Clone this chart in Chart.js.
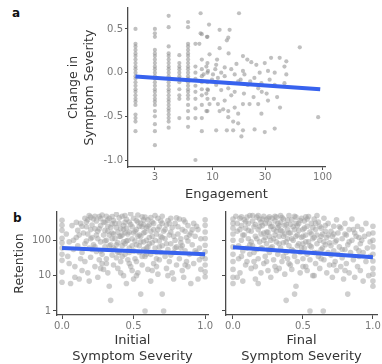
<!DOCTYPE html>
<html>
<head>
<meta charset="utf-8">
<script src="https://cdn.jsdelivr.net/npm/chart.js@4.4.1/dist/chart.umd.min.js"></script>
<style>
body { margin:0; background:#fff; width:382px; height:364px; position:relative; overflow:hidden; }
canvas { position:absolute; }
.lab { position:absolute; font:bold 12px "DejaVu Sans"; line-height:12px; color:#111; }
</style>
</head>
<body>
<div class="lab" style="left:12px;top:7px">a</div>
<div class="lab" style="left:13px;top:212px">b</div>
<canvas id="ca" width="340" height="210" style="left:0;top:0"></canvas>
<canvas id="cb1" width="215" height="165" style="left:0;top:200px"></canvas>
<canvas id="cb2" width="167" height="165" style="left:215px;top:200px"></canvas>
<script>
// panel a : engagement (log) vs change in symptom severity
const engTicks = [3, 10, 30, 100];
const changeTicks = [-1, -0.5, 0, 0.5];
const engCols = [2, 3, 4, 5, 6, 7, 8, 9];
const colY = [
  [0.5,0.33,0.3,0.26,0.22,0.19,0.15,0.11,0.07,0.04,0,-0.04,-0.07,-0.11,-0.15,-0.19,-0.22,-0.26,-0.3,-0.33,-0.37,-0.48,-0.52,-0.56,-0.67],
  [0.5,0.45,0.41,0.26,0.22,0.19,0.15,0.11,0.07,0.04,0,-0.04,-0.07,-0.11,-0.15,-0.19,-0.22,-0.26,-0.3,-0.33,-0.37,-0.44,-0.5,-0.59,-0.67,-0.83],
  [0.65,0.52,0.3,0.22,0.19,0.15,0.11,0.07,0.04,0,-0.04,-0.07,-0.11,-0.15,-0.19,-0.22,-0.26,-0.3,-0.33,-0.37,-0.41,-0.44,-0.48,-0.52,-0.56,-0.63],
  [0.2,0.11,0.07,0.04,0,-0.04,-0.07,-0.11,-0.19,-0.26,-0.3,-0.52],
  [0.58,0.52,0.33,0.3,0.26,0.22,0.19,0.15,0.11,0.07,0.04,0,-0.04,-0.07,-0.11,-0.15,-0.19,-0.22,-0.26,-0.3,-0.37,-0.44,-0.52,-0.62],
  [0.33,0.07,0,-0.07,-0.15,-0.22,-0.3,-0.41,-0.52,-1.0],
  [0.44,0.15,0.04,-0.04,-0.11,-0.19,-0.26,-0.37,-0.52,-0.67],
  [0.41,0.11,0,-0.11,-0.19,-0.3,-0.44]
];
const spreadA = [
  [7.8,0.68],[17.4,0.68],[9.3,0.55],[11.6,0.49],[14.3,0.49],[7.8,0.45],[8.9,0.41],[13.9,0.4],[13.5,0.37],
  [7.6,0.33],[62,0.29],[11.6,0.28],[9.4,0.21],[18.9,0.19],[20.7,0.15],[34,0.17],[40.7,0.17],[46.8,0.13],
  [22.5,0.12],[25,0.09],[29.8,0.11],[45,0.07],[10.8,0.09],[8.8,0.07],[12.9,0.06],[14.8,0.04],[18.9,0.02],
  [26.8,0],[31.9,0.02],[36.7,0],[46.8,-0.02],[10.1,-0.02],[11.2,-0.06],[13.9,-0.12],[17.1,-0.1],[20.9,-0.14],
  [26,-0.18],[36.7,-0.14],[19.3,-0.24],[14.8,-0.26],[12.9,-0.32],[23.6,-0.28],[31.9,-0.32],[18.9,-0.36],
  [15.9,-0.4],[11.6,-0.44],[13.9,-0.51],[17.1,-0.47],[27.8,-0.47],[9.4,-0.36],[8.8,-0.24],[15.4,-0.56],
  [10.8,-0.66],[13.5,-0.66],[15.4,-0.66],[18.9,-0.66],[24.1,-0.65],[29.8,-0.68],[36.7,-0.64],[18.3,-0.73],
  [91,-0.51],[17.1,-0.58],[10.6,0.04],[12,0],[12.9,-0.04],[9.9,-0.08],[10.8,-0.14],[12,-0.2],[13.9,-0.18],
  [15.9,-0.22],[9.1,-0.2],[10.3,-0.3],[11.2,-0.36],[12.5,-0.42],[13.9,-0.44],[8.8,-0.44],[8.3,-0.02],
  [9.1,0.02],[18,-0.08],[15.9,-0.02],[24,-0.06],[27.8,-0.12],[21.7,-0.36],[26,-0.36],[38.6,-0.28],
  [45,-0.12],[31,-0.24],[11,0.15],[14,0.22],[16.5,0.1],[19.5,-0.02],[22,-0.1],[28,-0.22],[33,-0.08],[41,-0.4]
];
const fitA = [[2, -0.045], [95, -0.19]];

// panel b : symptom severity vs retention (log)
const retTicks = [1, 10, 100];
const sevTicks = [0, 0.5, 1];
const initPts = [
  [0,366],[0,264],[0,191],[0,114],[0,60],[0,27],[0,12.6],[0,6.5],[0,40],[0,85],
  [1,264],[1,171],[1,112],[1,72],[1,47],[1,30],[1,20],[1,12.8],[1,9.3],[1,380],
  [0.03,150],[0.05,90],[0.04,35],[0.06,6],[0.07,260],[0.08,55],[0.09,18],[0.1,320],[0.1,120],[0.09,9],[0.05,22],
  [0.11,70],[0.12,8],[0.13,300],[0.14,45],[0.15,160],[0.16,420],[0.16,25],[0.17,95],[0.18,380],[0.18,12],[0.19,60],
  [0.2,450],[0.2,200],[0.2,33],[0.12,140],[0.14,14],[0.17,240],[0.19,7],
  [0.21,120],[0.22,400],[0.22,75],[0.23,18],[0.24,350],[0.24,48],[0.25,9],[0.25,180],[0.26,470],[0.26,28],[0.27,90],
  [0.27,260],[0.28,520],[0.28,40],[0.29,140],[0.29,15],[0.3,330],[0.3,65],[0.23,210],[0.25,110],[0.28,22],[0.21,55],[0.3,190],
  [0.31,100],[0.31,30],[0.32,250],[0.32,12],[0.33,420],[0.33,5],[0.34,2],[0.34,75],[0.35,160],[0.35,38],[0.36,360],
  [0.36,20],[0.37,110],[0.37,55],[0.38,540],[0.38,230],[0.39,16],[0.39,85],[0.4,300],[0.4,45],[0.33,140],[0.36,60],
  [0.38,32],[0.31,480],[0.35,290],[0.39,170],
  [0.41,130],[0.41,25],[0.42,480],[0.42,70],[0.43,200],[0.43,10],[0.44,40],[0.44,320],[0.45,390],[0.45,95],[0.45,6],
  [0.46,150],[0.46,28],[0.47,330],[0.47,60],[0.48,560],[0.48,18],[0.49,240],[0.49,110],[0.5,420],[0.5,50],[0.5,8],
  [0.42,35],[0.44,80],[0.47,170],[0.49,14],[0.43,260],
  [0.51,180],[0.51,30],[0.52,360],[0.52,75],[0.53,12],[0.53,130],[0.54,250],[0.54,45],[0.55,300],[0.55,3],[0.55,90],
  [0.56,20],[0.56,460],[0.57,160],[0.57,55],[0.58,450],[0.58,1],[0.58,35],[0.59,100],[0.59,220],[0.6,380],[0.6,15],
  [0.6,65],[0.52,25],[0.54,140],[0.57,280],[0.59,40],
  [0.61,120],[0.62,7],[0.62,40],[0.63,330],[0.63,85],[0.64,200],[0.64,22],[0.65,500],[0.65,60],[0.66,150],[0.66,30],
  [0.67,420],[0.67,11],[0.68,95],[0.68,240],[0.69,45],[0.7,300],[0.7,3],[0.7,70],[0.71,1],[0.61,270],[0.66,18],[0.69,130],
  [0.71,180],[0.72,35],[0.72,110],[0.73,16],[0.74,360],[0.74,55],[0.75,140],[0.75,25],[0.76,80],[0.77,230],[0.77,12],
  [0.78,8],[0.78,45],[0.79,300],[0.8,430],[0.8,65],[0.8,20],[0.73,270],[0.76,38],[0.79,100],
  [0.81,150],[0.82,400],[0.82,30],[0.83,85],[0.84,200],[0.84,14],[0.85,380],[0.85,9],[0.86,50],[0.87,120],[0.87,25],
  [0.88,260],[0.89,40],[0.9,6],[0.9,160],[0.83,60],[0.86,330],[0.88,18],
  [0.91,75],[0.92,300],[0.92,22],[0.93,130],[0.94,45],[0.95,8],[0.95,200],[0.96,60],[0.97,15],[0.97,110],[0.98,35],
  [0.94,250],[0.96,28],
  [0.16,80],[0.18,150],[0.2,110],[0.21,270],[0.23,65],[0.24,140],[0.26,210],[0.27,50],[0.29,320],[0.3,95],[0.32,180],
  [0.33,70],[0.34,230],[0.35,110],[0.36,150],[0.37,300],[0.38,75],[0.39,45],[0.4,130],[0.41,210],[0.42,140],[0.43,90],
  [0.44,160],[0.45,220],[0.46,100],[0.47,45],[0.48,280],[0.49,70],[0.5,160],[0.51,95],[0.52,200],[0.53,330],[0.54,70],
  [0.55,130],[0.56,240],[0.57,90],[0.58,170],[0.59,60],[0.6,250],[0.61,80],[0.62,180],[0.63,130],[0.64,300],[0.65,100],
  [0.66,45],[0.67,200],[0.68,65],[0.69,350],[0.7,120],[0.72,200],[0.73,80],[0.75,300],[0.76,170],[0.78,130],[0.79,60],
  [0.81,240],[0.83,110],[0.84,70],[0.86,180],[0.88,95],[0.89,140],[0.91,200],[0.93,50],[0.17,330],[0.19,500],[0.23,480],
  [0.27,410],[0.32,370],[0.35,470],[0.4,430],[0.44,500],[0.53,520],[0.57,380],[0.62,440],[0.7,480],[0.76,420],[0.14,250],
  [0.11,190],[0.08,100],[0.13,30],[0.27,16],[0.41,12],[0.52,10],[0.63,14],[0.74,10],[0.31,22],[0.47,22],[0.56,35],
  [0.68,28],[0.86,20]
];
const finalPts = [
  [0,400],[0,300],[0,220],[0,150],[0,100],[0,65],[0,40],[0,25],[0,15],[0,9],[0,6],
  [1,250],[1,160],[1,100],[1,65],[1,40],[1,26],[1,16],[1,11],[1,7],[1,5],
  [0.02,480],[0.03,180],[0.04,70],[0.04,30],[0.05,420],[0.05,12],[0.06,260],[0.06,100],[0.07,50],[0.07,7],[0.08,380],
  [0.08,140],[0.09,20],[0.09,220],[0.1,60],[0.1,450],[0.03,9],[0.06,35],
  [0.11,300],[0.11,110],[0.12,40],[0.12,500],[0.13,180],[0.13,16],[0.14,70],[0.14,350],[0.15,25],[0.15,240],[0.16,130],
  [0.16,8],[0.17,450],[0.17,55],[0.18,200],[0.18,30],[0.19,90],[0.19,400],[0.2,150],[0.2,12],[0.12,75],[0.15,45],
  [0.18,6],[0.2,320],
  [0.21,260],[0.21,60],[0.22,480],[0.22,22],[0.23,120],[0.23,35],[0.24,380],[0.24,80],[0.25,170],[0.25,14],[0.26,300],
  [0.26,45],[0.27,100],[0.27,9],[0.28,420],[0.28,65],[0.29,200],[0.29,28],[0.3,140],[0.3,350],[0.22,160],[0.25,55],
  [0.27,240],[0.3,18],
  [0.31,90],[0.31,450],[0.32,40],[0.32,230],[0.33,130],[0.33,16],[0.34,320],[0.34,60],[0.35,180],[0.35,25],[0.36,400],
  [0.36,85],[0.37,11],[0.37,150],[0.38,2],[0.38,280],[0.38,45],[0.39,110],[0.39,30],[0.4,500],[0.4,70],[0.33,260],
  [0.36,35],[0.39,200],
  [0.41,160],[0.41,20],[0.42,380],[0.42,55],[0.43,100],[0.43,240],[0.44,3],[0.44,35],[0.45,450],[0.45,5],[0.45,130],
  [0.46,70],[0.46,25],[0.47,300],[0.47,190],[0.48,45],[0.48,12],[0.49,120],[0.49,420],[0.5,80],[0.5,30],[0.42,15],
  [0.46,260],[0.5,200],
  [0.51,350],[0.51,60],[0.52,140],[0.52,18],[0.53,250],[0.53,40],[0.54,90],[0.54,470],[0.55,1],[0.55,170],[0.55,28],
  [0.56,300],[0.56,65],[0.57,110],[0.57,10],[0.58,400],[0.58,45],[0.59,200],[0.59,22],[0.6,80],[0.6,140],[0.53,14],[0.57,230],
  [0.61,330],[0.61,35],[0.62,100],[0.62,16],[0.63,220],[0.63,55],[0.64,150],[0.645,1],[0.65,420],[0.65,28],[0.66,75],
  [0.66,260],[0.67,12],[0.67,120],[0.68,45],[0.68,300],[0.69,85],[0.69,20],[0.7,180],[0.7,38],[0.64,60],
  [0.71,130],[0.71,9],[0.72,250],[0.72,50],[0.73,90],[0.73,25],[0.74,380],[0.74,14],[0.75,160],[0.75,40],[0.76,65],
  [0.77,220],[0.77,18],[0.78,110],[0.78,32],[0.79,8],[0.8,300],[0.8,55],
  [0.81,140],[0.81,22],[0.82,3],[0.82,75],[0.83,200],[0.83,12],[0.84,45],[0.85,400],[0.85,100],[0.86,28],[0.87,160],
  [0.87,9],[0.88,60],[0.89,250],[0.89,18],[0.9,35],[0.9,120],
  [0.91,80],[0.91,14],[0.92,200],[0.93,45],[0.93,7],[0.94,130],[0.95,25],[0.95,300],[0.96,60],[0.97,10],[0.97,150],
  [0.98,35],[0.98,90],
  [0.03,300],[0.05,200],[0.07,140],[0.09,330],[0.11,190],[0.13,90],[0.14,500],[0.16,280],[0.17,110],[0.19,240],[0.2,60],
  [0.21,400],[0.22,100],[0.23,300],[0.24,170],[0.25,420],[0.26,130],[0.27,60],[0.28,250],[0.29,110],[0.3,480],[0.31,180],
  [0.32,300],[0.33,80],[0.34,190],[0.35,440],[0.36,130],[0.37,260],[0.38,90],[0.39,370],[0.4,160],[0.41,280],[0.42,110],
  [0.43,50],[0.44,200],[0.45,300],[0.46,140],[0.47,80],[0.48,360],[0.49,60],[0.5,130],[0.51,220],[0.52,90],[0.53,400],
  [0.55,70],[0.56,150],[0.58,120],[0.59,300],[0.6,45],[0.62,250],[0.63,130],[0.65,90],[0.66,180],[0.68,140],[0.7,70],
  [0.72,150],[0.74,100],[0.76,240],[0.78,55],[0.8,150],[0.83,90],[0.86,200],[0.88,130],[0.92,100],[0.1,25],[0.16,18],
  [0.24,25],[0.31,14],[0.4,22],[0.5,18],[0.58,10],[0.63,30],[0.72,20],[0.8,14],[0.9,50],[0.06,460],[0.18,500],[0.26,460],
  [0.34,500],[0.44,480],[0.52,460],[0.6,500]
];
const fitInit = [[0, 60], [1, 40]];
const fitFinal = [[0, 63], [1, 33]];

const FONT = 'DejaVu Sans';
const AXIS = '#4a4a4a';
const xy = p => ({x: p[0], y: p[1]});

function pointSet(pts, r, col) {
  return { type: 'scatter', data: pts.map(xy), order: 1, pointRadius: r, pointBorderWidth: 0,
           pointBackgroundColor: col, pointHoverRadius: r };
}
function fitSet(pts) {
  return { type: 'line', data: pts.map(xy), order: 0, borderColor: '#3762EE', borderWidth: 4,
           pointRadius: 0, fill: false };
}
function axis(o) {
  return {
    type: o.type, min: o.min, max: o.max, bounds: 'data',
    afterBuildTicks: s => { s.ticks = o.ticks.map(v => ({value: v})); },
    afterFit: s => { if (o.w !== undefined) s.width = o.w; if (o.h !== undefined) s.height = o.h; },
    ticks: { callback: o.fmt, font: {family: FONT, size: 10}, color: '#777', padding: o.pad,
             autoSkip: false, maxRotation: 0 },
    grid: { display: true, drawOnChartArea: false, drawTicks: true, tickLength: o.tl, color: AXIS },
    border: { display: true, color: AXIS, width: 1.3 },
    title: o.title ? { display: true, text: o.title, color: '#333',
                       font: {family: FONT, size: o.ts, lineHeight: o.lh}, padding: o.tp } : { display: false }
  };
}
function makeChart(id, datasets, pad, xs, ys) {
  return new Chart(document.getElementById(id), {
    type: 'scatter',
    data: { datasets: datasets },
    options: {
      responsive: false, animation: false,
      layout: { padding: pad },
      plugins: { legend: { display: false }, tooltip: { enabled: false } },
      scales: { x: xs, y: ys }
    }
  });
}

// panel a
const ptsA = [];
engCols.forEach((c, i) => colY[i].forEach(v => ptsA.push([c, v])));
spreadA.forEach(p => ptsA.push(p));
makeChart('ca', [fitSet(fitA), pointSet(ptsA, 2.1, 'rgba(140,140,140,0.55)')],
  { top: 8, right: 15, left: 0, bottom: 0 },
  axis({ type: 'logarithmic', min: 1.71, max: 105, ticks: engTicks, fmt: v => String(v), pad: 1, tl: 3, h: 43,
         title: 'Engagement', ts: 13, lh: 1.2, tp: { top: 0, bottom: 8 } }),
  axis({ type: 'linear', min: -1.08, max: 0.74, ticks: changeTicks, fmt: v => v.toFixed(1), pad: 2, tl: 3, w: 128,
         title: ['Change in', 'Symptom Severity'], ts: 12.5, lh: 1.3, tp: { top: 65.4, bottom: 0 } })
);

// panel b, initial
makeChart('cb1', [fitSet(fitInit), pointSet(initPts, 2.8, 'rgba(160,160,160,0.5)')],
  { top: 12, right: 7, left: 0, bottom: 0 },
  axis({ type: 'linear', min: -0.035, max: 1.02, ticks: sevTicks, fmt: v => v.toFixed(1), pad: 1, tl: 4, h: 50,
         title: ['Initial', 'Symptom Severity'], ts: 13, lh: 1.23, tp: { top: 0, bottom: 0 } }),
  axis({ type: 'logarithmic', min: 0.77, max: 630, ticks: retTicks, fmt: v => String(v), pad: 2, tl: 4, w: 57,
         title: 'Retention', ts: 12.5, lh: 1.2, tp: { top: 12.5, bottom: 0 } })
);

// panel b, final
makeChart('cb2', [fitSet(fitFinal), pointSet(finalPts, 2.8, 'rgba(160,160,160,0.5)')],
  { top: 12, right: 4, left: 0, bottom: 0 },
  axis({ type: 'linear', min: -0.05, max: 1.03, ticks: sevTicks, fmt: v => v.toFixed(1), pad: 1, tl: 4, h: 50,
         title: ['Final', 'Symptom Severity'], ts: 13, lh: 1.23, tp: { top: 0, bottom: 0 } }),
  axis({ type: 'logarithmic', min: 0.77, max: 630, ticks: retTicks, fmt: () => '', pad: 0, tl: 4, w: 11 })
);
</script>
</body>
</html>
